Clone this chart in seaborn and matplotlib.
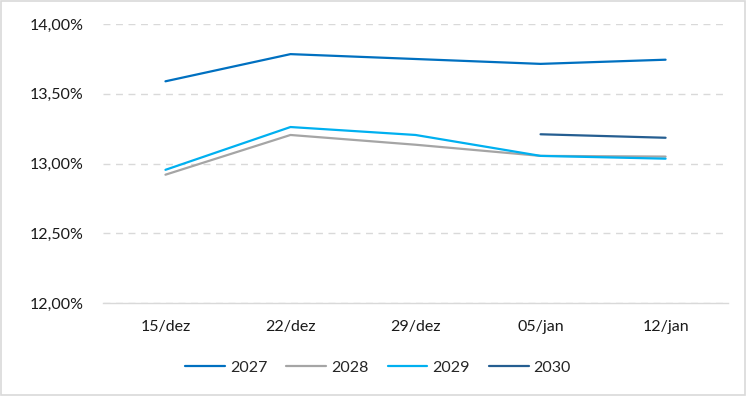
import pandas as pd
import matplotlib.pyplot as plt
import seaborn as sns
import numpy as np
from matplotlib.ticker import FuncFormatter
from matplotlib.patches import Rectangle

# Dados
datas = ['15/dez', '22/dez', '29/dez', '05/jan', '12/jan']
anos = ['2027', '2028', '2029', '2030']
taxa_2027 = [13.59, 13.785, 13.75, 13.715, 13.745]
taxa_2028 = [12.92, 13.205, 13.135, 13.055, 13.05]
taxa_2029 = [12.955, 13.262, 13.205, 13.055, 13.035]
taxa_2030 = [np.nan, np.nan, np.nan, 13.21, 13.185]
cores = ['#0070C0', '#A5A5A5', '#00B0F0', '#255E91']

df = pd.DataFrame({
    'data': datas * 4,
    'ano': np.repeat(anos, len(datas)),
    'taxa': taxa_2027 + taxa_2028 + taxa_2029 + taxa_2030,
})

sns.set_style('white')
plt.rcParams['font.family'] = ['Lato', 'DejaVu Sans']

fig = plt.figure(figsize=(7.46, 3.96), dpi=100)
ax = fig.add_axes([0.138, 0.235, 0.838, 0.704])

sns.lineplot(data=df, x='data', y='taxa', hue='ano', palette=cores,
             linewidth=1.6, sort=False, ax=ax)

ax.set_xlim(-0.5, 4.5)
ax.set_ylim(12.0, 14.0)
ax.set_yticks([12.0, 12.5, 13.0, 13.5, 14.0])
ax.yaxis.set_major_formatter(FuncFormatter(lambda v, _: f'{v:.2f}%'.replace('.', ',')))
ax.tick_params(axis='both', length=0, labelsize=11.5, colors='#1a1a1a')
ax.tick_params(axis='y', pad=14)
ax.tick_params(axis='x', pad=12)
ax.set_xlabel('')
ax.set_ylabel('')

ax.grid(axis='y', color='#D9D9D9', linestyle=(0, (5, 4)), linewidth=1)
for s in ['top', 'right', 'left']:
    ax.spines[s].set_visible(False)
ax.spines['bottom'].set_color('#D9D9D9')
ax.spines['bottom'].set_linewidth(1)

ax.legend(loc='upper center', bbox_to_anchor=(0.44, -0.155), ncol=4, frameon=False,
          fontsize=11.5, handlelength=2.5, columnspacing=1.2, handletextpad=0.3)

# borda da figura
fig.patches.append(Rectangle((0.001, 0.002), 0.997, 0.995, transform=fig.transFigure,
                             fill=False, edgecolor='#D9D9D9', linewidth=1.2))

plt.savefig('out.png', dpi=100)
